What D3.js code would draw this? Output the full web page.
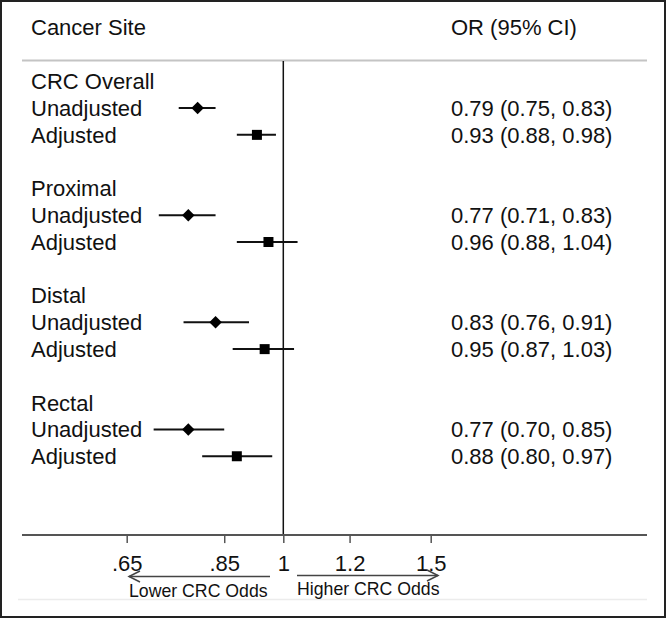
<!DOCTYPE html>
<html>
<head>
<meta charset="utf-8">
<script src="https://cdn.jsdelivr.net/npm/d3@7"></script>
<style>
  html, body { margin: 0; padding: 0; background: #fff; }
  svg { display: block; }
  text { font-family: "Liberation Sans", Arial, sans-serif; fill: #111; }
</style>
</head>
<body>
<svg id="chart" width="667" height="619"></svg>
<script>
// ---- data ----
const groups = ["CRC Overall", "Proximal", "Distal", "Rectal"];
const models = ["Unadjusted", "Adjusted"];
const orValues = [[0.79, 0.93], [0.77, 0.96], [0.83, 0.95], [0.77, 0.88]];
const ciLower = [[0.75, 0.88], [0.71, 0.88], [0.76, 0.87], [0.70, 0.80]];
const ciUpper = [[0.83, 0.98], [0.83, 1.04], [0.91, 1.03], [0.85, 0.97]];
const tickValues = [0.65, 0.85, 1, 1.2, 1.5];
const tickLabels = [".65", ".85", "1", "1.2", "1.5"];
const headerLeft = "Cancer Site";
const headerRight = "OR (95% CI)";
const arrowLabels = ["Lower CRC Odds", "Higher CRC Odds"];

// ---- layout ----
const W = 667, H = 619;
const svg = d3.select("#chart");
const FS = 22;

// log x scale: 1 -> 283.3, 1.5 -> 430.7
const x = d3.scaleLog().domain([0.65, 1.5]).range([126.7, 430.7]);
// row slot scale
const y = d3.scaleLinear().domain([0, 17]).range([81.3, 536.6]);

const fmt = d3.format(".2f");

// outer border
svg.append("rect").attr("x", 1).attr("y", 1).attr("width", 664).attr("height", 616)
  .attr("fill", "none").attr("stroke", "#222").attr("stroke-width", 2);

// header
svg.append("text").attr("x", 31).attr("y", 35).attr("font-size", FS).text(headerLeft);
svg.append("text").attr("x", 451).attr("y", 35).attr("font-size", FS).text(headerRight);
svg.append("line").attr("x1", 22).attr("x2", 647).attr("y1", 60.5).attr("y2", 60.5)
  .attr("stroke", "#c4c4c4").attr("stroke-width", 2);

// bottom faint line
svg.append("line").attr("x1", 18).attr("x2", 647).attr("y1", 599.5).attr("y2", 599.5)
  .attr("stroke", "#ececec").attr("stroke-width", 1.5);

// reference line at OR = 1
svg.append("line").attr("x1", x(1)).attr("x2", x(1)).attr("y1", 61).attr("y2", y(17) - 1.5)
  .attr("stroke", "#111").attr("stroke-width", 1.5);

// rows
const rows = [];
groups.forEach((g, gi) => {
  svg.append("text").attr("x", 31).attr("y", y(gi * 4)).attr("dy", "0.36em")
    .attr("font-size", FS).text(g);
  models.forEach((m, mi) => {
    rows.push({ group: g, model: m, slot: gi * 4 + 1 + mi, mi,
      or: orValues[gi][mi], lo: ciLower[gi][mi], hi: ciUpper[gi][mi] });
  });
});

const rowG = svg.append("g").selectAll("g").data(rows).join("g");
rowG.append("text").attr("x", 31).attr("y", d => y(d.slot)).attr("dy", "0.36em")
  .attr("font-size", FS).text(d => d.model);
rowG.append("text").attr("x", 451).attr("y", d => y(d.slot)).attr("dy", "0.36em")
  .attr("font-size", FS)
  .text(d => `${fmt(d.or)} (${fmt(d.lo)}, ${fmt(d.hi)})`);
rowG.append("line")
  .attr("x1", d => x(d.lo)).attr("x2", d => x(d.hi))
  .attr("y1", d => y(d.slot)).attr("y2", d => y(d.slot))
  .attr("stroke", "#111").attr("stroke-width", 2);
rowG.append("path")
  .attr("d", d => d3.symbol().type(d3.symbolSquare).size(d.mi === 0 ? 78 : 100)())
  .attr("transform", d => `translate(${x(d.or)},${y(d.slot)})` + (d.mi === 0 ? " rotate(45)" : ""))
  .attr("fill", "#000");

// x axis
const axisY = y(17) - 1.5;
svg.append("line").attr("x1", 22).attr("x2", 647).attr("y1", axisY).attr("y2", axisY)
  .attr("stroke", "#555").attr("stroke-width", 2);
const axisG = svg.append("g").attr("transform", `translate(0,${axisY})`)
  .call(d3.axisBottom(x).tickValues(tickValues)
    .tickFormat((d, i) => tickLabels[i]).tickSize(8).tickPadding(12));
axisG.select(".domain").remove();
axisG.selectAll(".tick line").attr("stroke", "#555").attr("stroke-width", 1.5);
axisG.selectAll(".tick text").attr("font-size", FS)
  .attr("font-family", '"Liberation Sans", Arial, sans-serif').attr("fill", "#111");

// arrows
const arrowColor = "#444";
const ay1 = 576.5, ay2 = 575.5;
svg.append("line").attr("x1", 129).attr("x2", 270).attr("y1", ay1).attr("y2", ay1)
  .attr("stroke", arrowColor).attr("stroke-width", 1.5);
svg.append("path").attr("d", `M140,${ay1 - 5.5}L129,${ay1}L140,${ay1 + 5.5}`)
  .attr("fill", "none").attr("stroke", arrowColor).attr("stroke-width", 1.5);
svg.append("line").attr("x1", 297).attr("x2", 438).attr("y1", ay2).attr("y2", ay2)
  .attr("stroke", arrowColor).attr("stroke-width", 1.5);
svg.append("path").attr("d", `M427,${ay2 - 5.5}L438,${ay2}L427,${ay2 + 5.5}`)
  .attr("fill", "none").attr("stroke", arrowColor).attr("stroke-width", 1.5);
svg.append("text").attr("x", 129).attr("y", 597).attr("font-size", 17.7).text(arrowLabels[0]);
svg.append("text").attr("x", 297).attr("y", 595).attr("font-size", 17.7).text(arrowLabels[1]);
</script>
</body>
</html>
